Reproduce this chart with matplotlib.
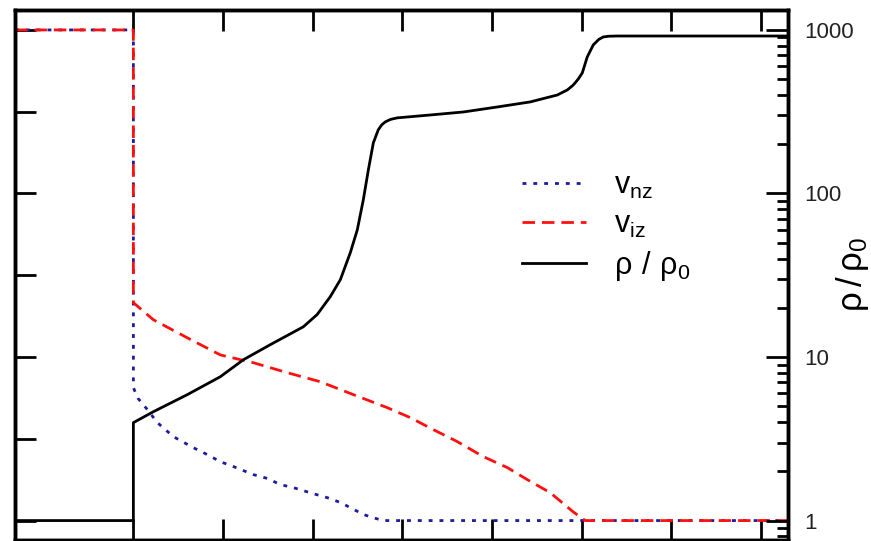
import numpy as np
import matplotlib.pyplot as plt

plt.rcParams['font.family'] = ['Liberation Sans', 'DejaVu Sans']

# density ratio rho/rho0
x_rho = [-1.32, 0.0, 0.0, 0.223, 0.602, 0.970, 1.226, 1.527, 1.895, 2.050, 2.196,
         2.308, 2.419, 2.497, 2.564, 2.620, 2.676, 2.731, 2.770, 2.809, 2.870,
         2.943, 3.311, 3.679, 4.058, 4.426, 4.727, 4.840, 4.905, 4.960, 5.006,
         5.061, 5.128, 5.190, 5.240, 5.300, 5.396, 7.30]
rho = [1.0, 1.0, 3.97, 4.63, 5.89, 7.58, 9.62, 11.9, 15.3, 18.2, 23.4,
       29.7, 43.4, 59.9, 91.4, 139, 204, 245, 263, 274, 284,
       290, 302, 315, 338, 363, 400, 430, 460, 500, 546,
       683, 809, 875, 906, 915, 918, 918]

# ion velocity
x_viz = [-1.32, 0.0, 0.0, 0.223, 0.602, 0.970, 1.338, 1.717, 2.085, 2.453, 2.832,
         3.088, 3.344, 3.612, 3.902, 4.169, 4.392, 4.649, 4.905, 5.039, 7.30]
v_iz = [1000, 1000, 21.5, 16.9, 13.1, 10.3, 9.23, 8.02, 7.06, 5.89, 4.9,
        4.26, 3.6, 3.04, 2.46, 2.11, 1.78, 1.48, 1.13, 1.0, 1.0]

# neutral velocity
x_vnz = [-1.32, 0.0, 0.0, 0.05, 0.156, 0.268, 0.446, 0.669, 0.825, 0.970, 1.115,
         1.338, 1.494, 1.639, 1.784, 2.007, 2.163, 2.308, 2.419, 2.564, 2.676,
         2.787, 7.30]
v_nz = [1000, 1000, 6.5, 5.6, 4.77, 3.97, 3.26, 2.79, 2.53, 2.29, 2.14,
        1.91, 1.81, 1.66, 1.59, 1.46, 1.38, 1.29, 1.2, 1.09, 1.04,
        1.0, 1.0]

right_ticks = [1, 10, 100, 1000]
right_labels = ['1', '10', '100', '1000']

fig = plt.figure(figsize=(8.71, 5.41), dpi=100)
ax = fig.add_axes([15 / 871, 1.5 / 541, (788 - 15) / 871, (539.5 - 10) / 541])

ax.plot(x_vnz, v_nz, color='#1c1c9c', lw=2, dashes=(1.4, 2.5), label=r'$\mathregular{v_{nz}}$')
ax.plot(x_viz, v_iz, color='#ff1010', lw=2, dashes=(4.5, 2.5), label=r'$\mathregular{v_{iz}}$')
ax.plot(x_rho, rho, color='black', lw=2, label=r'$\mathregular{ρ\ /\ ρ_0}$')

ax.set_yscale('log')
ax.set_xlim(-1.32, 7.30)
ax.set_ylim(0.766, 1324)
ax.set_xticks(np.arange(0, 8))
ax.set_yticks(10 ** (np.arange(7) / 2))
ax.yaxis.set_minor_locator(plt.NullLocator())
ax.tick_params(axis='both', which='major', direction='in', length=15, width=2,
               top=True, bottom=True, left=True, right=False,
               labelbottom=False, labelleft=False)
for s in ax.spines.values():
    s.set_linewidth(2.5)

ax2 = ax.twinx()
ax2.set_yscale('log')
ax2.set_ylim(ax.get_ylim())
ax2.set_yticks(right_ticks)
ax2.set_yticklabels(right_labels)
ax2.tick_params(axis='y', which='major', direction='in', length=16, width=2,
                labelsize=16, pad=12, colors='black', labelcolor='#222222')
ax2.tick_params(axis='y', which='minor', direction='in', length=8, width=2)
ax2.yaxis.set_minor_locator(plt.LogLocator(base=10, subs=np.arange(2, 10)))
ax2.yaxis.set_minor_formatter(plt.NullFormatter())
ax2.set_ylabel(r'$\mathregular{ρ\,/\,ρ_0}$', fontsize=25)
ax2.yaxis.set_label_coords(1.060, 0.50)
for s in ax2.spines.values():
    s.set_linewidth(2.5)

ax.legend(loc='upper left', bbox_to_anchor=(0.64, 0.72), frameon=False,
          fontsize=22, handlelength=2.1, handletextpad=0.9, labelspacing=0.3,
          borderaxespad=0)

fig.savefig('out.png', dpi=100)
